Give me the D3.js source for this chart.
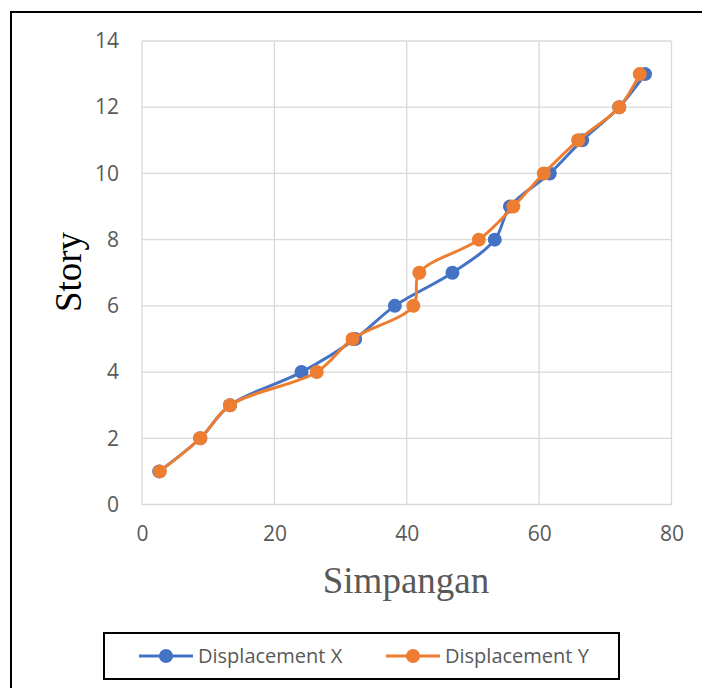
<!DOCTYPE html>
<html><head><meta charset="utf-8">
<script src="https://cdn.jsdelivr.net/npm/d3@7"></script>
<style>body{margin:0;background:#fff}svg{display:block}</style>
</head><body>
<script>
const stories = [1,2,3,4,5,6,7,8,9,10,11,12,13];
const dispX = [2.6,8.8,13.3,24.1,32.2,38.2,46.9,53.3,55.6,61.6,66.5,72.1,76.0];
const dispY = [2.7,8.8,13.3,26.4,31.8,41.0,41.9,50.9,56.1,60.7,65.9,72.1,75.2];
const xTicks = [0,20,40,60,80];
const yTicks = [0,2,4,6,8,10,12,14];
const seriesNames = ["Displacement X","Displacement Y"];
const colors = ["#4472C4","#ED7D31"];

const W=702,H=688;
const svg=d3.select("body").append("svg").attr("width",W).attr("height",H);
// outer frame
svg.append("rect").attr("x",11).attr("y",12).attr("width",W).attr("height",H)
  .attr("fill","none").attr("stroke","#000").attr("stroke-width",2);

const L=142,R=671.5,T=41,B=504.5;
const x=d3.scaleLinear().domain([0,80]).range([L,R]);
const y=d3.scaleLinear().domain([0,14]).range([B,T]);

// gridlines
svg.append("g").selectAll("line.h").data(yTicks).join("line")
  .attr("x1",L).attr("x2",R).attr("y1",d=>y(d)).attr("y2",d=>y(d))
  .attr("stroke","#d9d9d9").attr("stroke-width",1.3);
svg.append("g").selectAll("line.v").data(xTicks).join("line")
  .attr("y1",T).attr("y2",B).attr("x1",d=>x(d)).attr("x2",d=>x(d))
  .attr("stroke","#d9d9d9").attr("stroke-width",1.3);

const xa=svg.append("g").attr("transform",`translate(0,${B})`)
  .call(d3.axisBottom(x).tickValues(xTicks).tickSize(0).tickPadding(22));
const ya=svg.append("g").attr("transform",`translate(${L},0)`)
  .call(d3.axisLeft(y).tickValues(yTicks).tickSize(0).tickPadding(23));
[xa,ya].forEach(g=>{g.select(".domain").remove();
  g.selectAll("text").attr("fill","#595959").attr("font-family","'Open Sans', 'Noto Sans', sans-serif").attr("font-size",21);});

const line=d3.line().x(d=>x(d[0])).y(d=>y(d[1])).curve(d3.curveCatmullRom.alpha(0.5));
[dispX,dispY].forEach((vals,i)=>{
  const pts=vals.map((v,j)=>[v,stories[j]]);
  svg.append("path").datum(pts).attr("d",line).attr("fill","none")
    .attr("stroke",colors[i]).attr("stroke-width",3).attr("stroke-linejoin","round");
  svg.append("g").selectAll("circle").data(pts).join("circle")
    .attr("cx",d=>x(d[0])).attr("cy",d=>y(d[1])).attr("r",7).attr("fill",colors[i]);
});

// axis titles
svg.append("text").attr("x",406).attr("y",593).attr("text-anchor","middle")
  .attr("font-family","'Liberation Serif', serif").attr("font-size",37).attr("fill","#595959").text("Simpangan");
svg.append("text").attr("transform","translate(81,272) rotate(-90)").attr("text-anchor","middle")
  .attr("font-family","'Liberation Serif', serif").attr("font-size",37).attr("fill","#000").text("Story");

// legend
svg.append("rect").attr("x",104).attr("y",633).attr("width",515).attr("height",46)
  .attr("fill","#fff").attr("stroke","#000").attr("stroke-width",2);
const lx=[139,386];
seriesNames.forEach((n,i)=>{
  const g=svg.append("g").attr("transform",`translate(${lx[i]},656)`);
  g.append("line").attr("x1",0).attr("x2",54).attr("stroke",colors[i]).attr("stroke-width",3);
  g.append("circle").attr("cx",27).attr("r",7).attr("fill",colors[i]);
  g.append("text").attr("x",59).attr("y",7).attr("font-family","'Open Sans', 'Noto Sans', sans-serif")
    .attr("font-size",20).attr("fill","#595959").text(n);
});
</script>
</body></html>
